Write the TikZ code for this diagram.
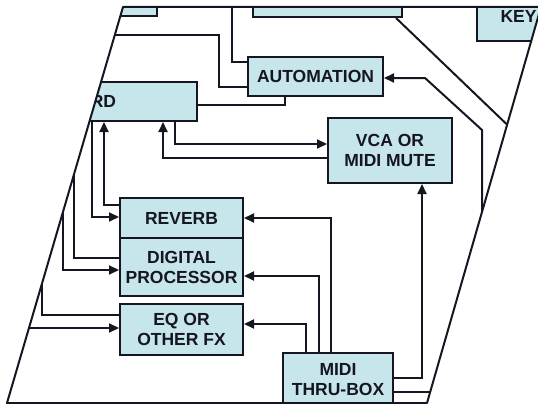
\documentclass[tikz,border=0pt]{standalone}
\usepackage{fontspec}
\setmainfont{Liberation Sans}
\usetikzlibrary{calc,positioning,arrows.meta}
\definecolor{boxfill}{RGB}{198,230,236}
\definecolor{ink}{RGB}{22,22,34}

\begin{document}
\begin{tikzpicture}[x=1pt,y=-1pt,
  box/.style={draw=ink,fill=boxfill,line width=2pt,text=ink,
    font=\bfseries\fontsize{17.5}{20}\selectfont,align=center,inner sep=0pt},
  wire/.style={draw=ink,line width=2pt},
  >={Triangle[length=10pt,width=9pt]}]
\useasboundingbox (0,0) rectangle (538,404);
\begin{scope}
\clip (123,7) -- (541,7) -- (427,403) -- (7,403) -- cycle;
\node[box,minimum width=97pt,minimum height=36pt] (topA) at (108.5,-2) {};
\node[box,minimum width=149pt,minimum height=37pt] (topB) at (327.5,-1.5) {};
\node[box,minimum width=83pt,minimum height=50pt] (key) at (518.5,16) {KEY};
\node[box,minimum width=187pt,minimum height=39pt] (board) at (103.5,101.5) {RD};
\node[box,minimum width=135pt,minimum height=39pt] (auto) at (315.5,76.5) {AUTOMATION};
\node[box,minimum width=124pt,minimum height=65pt] (vca) at (390,150.5) {VCA OR\\MIDI MUTE};
\node[box,minimum width=123pt,minimum height=40pt] (reverb) at (181.5,218) {REVERB};
\node[box,minimum width=123pt,minimum height=58pt] (digital) at (181.5,267) {DIGITAL\\PROCESSOR};
\node[box,minimum width=123pt,minimum height=51pt] (eq) at (181.5,329.5) {EQ OR\\OTHER FX};
\node[box,minimum width=110pt,minimum height=54pt] (thru) at (338,380) {MIDI\\THRU-BOX};
\coordinate (lA) at (0,35);
\coordinate (tB) at (232,-10);
\coordinate (lC) at (74,150);
\coordinate (lD) at (63,150);
\coordinate (lE) at (42,250);
\coordinate (lF) at (0,328);
\coordinate (rA) at (482,300);
\coordinate (rB) at (520,392);
\coordinate (rC) at (619,232);
\draw[wire] (lA) -| (219,87) -- (auto.west |- 0,87);
\draw[wire] (tB) |- (auto.west |- 0,62);
\draw[wire] (board.east |- 0,105) -| (auto.south -| 285,0);
\draw[wire,->] (board.south -| 175,0) |- (vca.west |- 0,144);
\draw[wire,->] (vca.west |- 0,158) -| (board.south -| 163,0);
\draw[wire,->] (reverb.west |- 0,205) -| (board.south -| 104,0);
\draw[wire,->] (board.south -| 92,0) |- (reverb.west |- 0,217);
\draw[wire] (lC) |- (digital.west |- 0,258);
\draw[wire,->] (lD) |- (digital.west |- 0,270);
\draw[wire] (lE) |- (eq.west |- 0,315);
\draw[wire,->] (lF) -- (eq.west |- 0,328);
\draw[wire,->] (thru.north -| 331,0) |- (reverb.east |- 0,218);
\draw[wire,->] (thru.north -| 319,0) |- (digital.east |- 0,276);
\draw[wire,->] (thru.north -| 306,0) |- (eq.east |- 0,324);
\draw[wire,->] (thru.east |- 0,378) -| (vca.south -| 422,0);
\draw[wire] (thru.east |- 0,392) -- (rB);
\draw[wire,->] (rA) -- (482,130) -- (425,78) -- (auto.east |- 0,78);
\draw[wire] ([xshift=-7pt]topB.south east) -- (rC);
\end{scope}
\draw[wire,line join=round] (123,7) -- (541,7) -- (427,403) -- (7,403) -- cycle;
\end{tikzpicture}
\end{document}
